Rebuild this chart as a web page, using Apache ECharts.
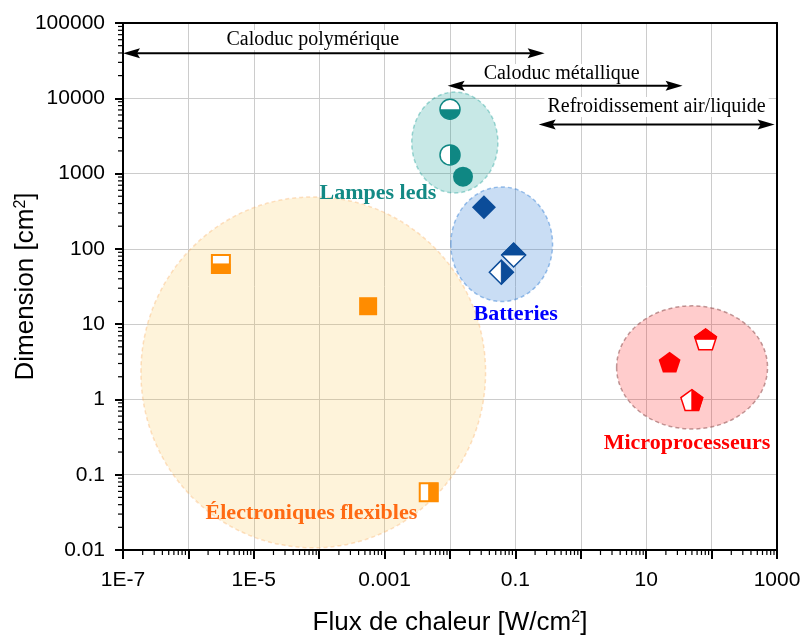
<!DOCTYPE html>
<html>
<head>
<meta charset="utf-8">
<script src="https://cdn.jsdelivr.net/npm/echarts@6/dist/echarts.min.js"></script>
<style>
html, body { margin: 0; padding: 0; background: #fff; }
#chart { width: 801px; height: 635px; }
</style>
</head>
<body>
<div id="chart"></div>
<script>
// Lampes leds (teal circles)
const ledX = [0.01, 0.01, 0.0158];
const ledY = [7150, 1770, 910];
const ledFill = ['bottom', 'right', 'full'];
// Batteries (blue diamonds)
const batX = [0.033, 0.094, 0.061];
const batY = [357, 83, 49];
const batFill = ['full', 'top', 'right'];
// Microprocesseurs (red pentagons)
const cpuX = [22.8, 80.8, 49.9];
const cpuY = [3.12, 6.3, 0.98];
const cpuFill = ['full', 'top', 'right'];
// Électroniques flexibles (orange squares)
const flexX = [3.14e-6, 5.6e-4, 4.73e-3];
const flexY = [63, 17.3, 0.0585];
const flexFill = ['bottom', 'full', 'right'];

// zones : [xmin, xmax, ymin, ymax]
const zoneNames = ['Électroniques flexibles', 'Lampes leds', 'Batteries', 'Microprocesseurs'];
const zoneBox = [
  [1.88e-7, 0.035, 0.0107, 490],
  [0.0026, 0.054, 552, 12100],
  [0.0103, 0.37, 20, 664],
  [3.53, 716, 0.405, 17.5]
];
const zoneLabelX = [7.6e-5, 7.9e-4, 0.101, 42];
const zoneLabelY = [0.0311, 552, 13.6, 0.264];

// technologies de refroidissement (double arrows)
const techNames = ['Caloduc polymérique', 'Caloduc métallique', 'Refroidissement air/liquide'];
const techFrom = [1e-7, 0.0092, 0.227];
const techTo = [0.28, 36, 920];
const techY = [39600, 14700, 4490];
const techLabelX = [8e-5, 0.51, 14.4];
const techLabelY = [59400, 21000, 7650];

const xTickLabels = ['1E-7', '1E-5', '0.001', '0.1', '10', '1000'];
const yTickLabels = ['0.01', '0.1', '1', '10', '100', '1000', '10000', '100000'];

const zoneFill = ['rgba(250,190,50,0.18)', 'rgba(0,150,140,0.22)', 'rgba(40,120,210,0.25)', 'rgba(255,0,0,0.2)'];
const zoneStroke = ['rgba(250,170,90,0.35)', 'rgba(0,150,140,0.35)', 'rgba(40,120,210,0.45)', 'rgba(150,90,90,0.6)'];
const zoneTextColor = ['#FF6A13', '#138A85', '#0000FF', '#FF0000'];

var chartDom = document.getElementById('chart');
var myChart = echarts.init(chartDom);
var option;

function shapePoints(shape, s) {
  if (shape === 'square') return [[-s, -s], [s, -s], [s, s], [-s, s]];
  if (shape === 'diamond') return [[0, -s], [s, 0], [0, s], [-s, 0]];
  const pts = [];
  for (let k = 0; k < 5; k++) {
    const a = -Math.PI / 2 + k * 2 * Math.PI / 5;
    pts.push([s * Math.cos(a), s * Math.sin(a) + 0.095 * s]);
  }
  return pts;
}

// keep the half of a polygon given by 'top' / 'bottom' / 'left' / 'right'
function clipHalf(pts, half) {
  const f = { top: p => p[1], bottom: p => -p[1], left: p => p[0], right: p => -p[0] }[half];
  const out = [];
  for (let i = 0; i < pts.length; i++) {
    const a = pts[i], b = pts[(i + 1) % pts.length];
    const fa = f(a), fb = f(b);
    if (fa <= 0) out.push(a);
    if ((fa < 0 && fb > 0) || (fa > 0 && fb < 0)) {
      const t = fa / (fa - fb);
      out.push([a[0] + t * (b[0] - a[0]), a[1] + t * (b[1] - a[1])]);
    }
  }
  return out;
}

function markerSeries(name, xs, ys, fills, shape, size, color, lw) {
  return {
    type: 'custom',
    name: name,
    z: 5,
    data: xs.map((x, i) => [x, ys[i]]),
    renderItem: function (params, api) {
      const c = api.coord([api.value(0), api.value(1)]);
      const fill = fills[params.dataIndex];
      const children = [];
      if (shape === 'circle') {
        if (fill === 'full') {
          children.push({ type: 'circle', shape: { cx: c[0], cy: c[1], r: size }, style: { fill: color } });
        } else {
          children.push({ type: 'circle', shape: { cx: c[0], cy: c[1], r: size }, style: { fill: '#fff', stroke: color, lineWidth: lw } });
          const ang = fill === 'bottom' ? [0, Math.PI] : [-Math.PI / 2, Math.PI / 2];
          children.push({ type: 'sector', shape: { cx: c[0], cy: c[1], r: size, r0: 0, startAngle: ang[0], endAngle: ang[1], clockwise: true }, style: { fill: color } });
        }
      } else {
        const pts = shapePoints(shape, size);
        const abs = arr => arr.map(p => [c[0] + p[0], c[1] + p[1]]);
        if (fill === 'full') {
          children.push({ type: 'polygon', shape: { points: abs(pts) }, style: { fill: color } });
        } else {
          children.push({ type: 'polygon', shape: { points: abs(pts) }, style: { fill: '#fff', stroke: color, lineWidth: lw } });
          children.push({ type: 'polygon', shape: { points: abs(clipHalf(pts, fill)) }, style: { fill: color, stroke: color, lineWidth: 1 } });
        }
      }
      return { type: 'group', children: children };
    }
  };
}

const series = [];

// zones (ellipses)
series.push({
  type: 'custom',
  z: 1,
  data: zoneBox.map(b => [b[0], b[2], b[1], b[3]]),
  renderItem: function (params, api) {
    const i = params.dataIndex;
    const p0 = api.coord([api.value(0), api.value(1)]);
    const p1 = api.coord([api.value(2), api.value(3)]);
    return {
      type: 'ellipse',
      shape: {
        cx: (p0[0] + p1[0]) / 2, cy: (p0[1] + p1[1]) / 2,
        rx: Math.abs(p1[0] - p0[0]) / 2, ry: Math.abs(p0[1] - p1[1]) / 2
      },
      style: { fill: zoneFill[i], stroke: zoneStroke[i], lineWidth: 1.5, lineDash: [4, 3] }
    };
  }
});

// zone labels
series.push({
  type: 'custom',
  z: 6,
  data: zoneLabelX.map((x, i) => [x, zoneLabelY[i]]),
  renderItem: function (params, api) {
    const i = params.dataIndex;
    const c = api.coord([api.value(0), api.value(1)]);
    return {
      type: 'text', x: c[0], y: c[1],
      style: { text: zoneNames[i], fill: zoneTextColor[i], font: 'bold 22px "Liberation Serif"', align: 'center', verticalAlign: 'middle' }
    };
  }
});

// arrows
series.push({
  type: 'custom',
  z: 6,
  data: techY.map((y, i) => [techFrom[i], y]),
  renderItem: function (params, api) {
    const i = params.dataIndex;
    const a = api.coord([techFrom[i], techY[i]]);
    const b = api.coord([techTo[i], techY[i]]);
    const L = 17, W = 5;
    return {
      type: 'group',
      children: [
        { type: 'line', shape: { x1: a[0] + 8, y1: a[1], x2: b[0] - 8, y2: b[1] }, style: { stroke: '#000', lineWidth: 2 } },
        { type: 'polygon', shape: { points: [[a[0], a[1]], [a[0] + L, a[1] - W], [a[0] + L - 3, a[1]], [a[0] + L, a[1] + W]] }, style: { fill: '#000' } },
        { type: 'polygon', shape: { points: [[b[0], b[1]], [b[0] - L, b[1] - W], [b[0] - L + 3, b[1]], [b[0] - L, b[1] + W]] }, style: { fill: '#000' } }
      ]
    };
  }
});

// arrow labels
series.push({
  type: 'custom',
  z: 7,
  data: techLabelX.map((x, i) => [x, techLabelY[i]]),
  renderItem: function (params, api) {
    const i = params.dataIndex;
    const c = api.coord([api.value(0), api.value(1)]);
    return {
      type: 'text', x: c[0], y: c[1],
      style: { text: techNames[i], fill: '#000', font: '20px "Liberation Serif"', align: 'center', verticalAlign: 'middle', backgroundColor: '#fff', padding: [0, 3] }
    };
  }
});

// minor ticks at 2..9 of every decade
series.push({
  type: 'custom',
  z: 8,
  silent: true,
  data: [[1e-7, 0.01]],
  renderItem: function (params, api) {
    const children = [];
    for (let e = -7; e < 3; e++) {
      for (let k = 2; k <= 9; k++) {
        const p = api.coord([k * Math.pow(10, e), 0.01]);
        children.push({ type: 'line', shape: { x1: p[0], y1: p[1], x2: p[0], y2: p[1] + 5 }, style: { stroke: '#000', lineWidth: 1.2 } });
      }
    }
    for (let e = -2; e < 5; e++) {
      for (let k = 2; k <= 9; k++) {
        const p = api.coord([1e-7, k * Math.pow(10, e)]);
        children.push({ type: 'line', shape: { x1: p[0] - 5, y1: p[1], x2: p[0], y2: p[1] }, style: { stroke: '#000', lineWidth: 1.2 } });
      }
    }
    return { type: 'group', children: children };
  }
});

series.push(markerSeries('Électroniques flexibles', flexX, flexY, flexFill, 'square', 9, '#FF8C00', 2));
series.push(markerSeries('Lampes leds', ledX, ledY, ledFill, 'circle', 10, '#0F8783', 1.5));
series.push(markerSeries('Batteries', batX, batY, batFill, 'diamond', 12, '#0B4C99', 1.5));
series.push(markerSeries('Microprocesseurs', cpuX, cpuY, cpuFill, 'pentagon', 11.5, '#FF0000', 1.5));

const axisFont = 'Liberation Sans';

option = {
  backgroundColor: '#fff',
  animation: false,
  grid: { left: 123, right: 24, top: 23, bottom: 85, containLabel: false, outerBoundsMode: 'none' },
  xAxis: [{
    type: 'log',
    logBase: 10,
    min: 1e-7,
    max: 1000,
    interval: 1,
    splitNumber: 10,
    name: 'Flux de chaleur [W/cm{sup|2}]',
    nameLocation: 'middle',
    nameGap: 60,
    nameTextStyle: {
      fontFamily: axisFont, fontSize: 26, color: '#000',
      rich: { sup: { fontFamily: axisFont, fontSize: 16, color: '#000', verticalAlign: 'top', padding: [0, 0, 10, 0] } }
    },
    axisLine: { onZero: false, lineStyle: { color: '#000', width: 2 } },
    axisTick: { inside: false, length: 9, lineStyle: { color: '#000', width: 2 } },
    axisLabel: {
      fontFamily: axisFont, fontSize: 21, color: '#000', margin: 20,
      formatter: function (v) {
        const e = Math.round(Math.log10(v));
        return (e + 7) % 2 === 0 ? xTickLabels[(e + 7) / 2] : '';
      }
    },
    splitLine: { show: true, lineStyle: { color: '#cccccc', width: 1 } }
  }, {
    type: 'log', min: 1e-7, max: 1000, position: 'top',
    axisLine: { show: true, onZero: false, lineStyle: { color: '#000', width: 2 } },
    axisTick: { show: false }, axisLabel: { show: false }, splitLine: { show: false }
  }],
  yAxis: [{
    type: 'log',
    logBase: 10,
    min: 0.01,
    max: 100000,
    splitNumber: 7,
    name: 'Dimension [cm{sup|2}]',
    nameLocation: 'middle',
    nameGap: 84,
    nameMoveOverlap: false,
    nameTextStyle: {
      fontFamily: axisFont, fontSize: 26, color: '#000',
      rich: { sup: { fontFamily: axisFont, fontSize: 16, color: '#000', verticalAlign: 'top', padding: [0, 0, 10, 0] } }
    },
    axisLine: { onZero: false, lineStyle: { color: '#000', width: 2 } },
    axisTick: { inside: false, length: 8, lineStyle: { color: '#000', width: 2 } },
    axisLabel: {
      fontFamily: axisFont, fontSize: 21, color: '#000', margin: 18,
      formatter: function (v) {
        const e = Math.round(Math.log10(v));
        return yTickLabels[e + 2];
      }
    },
    splitLine: { show: true, lineStyle: { color: '#cccccc', width: 1 } }
  }, {
    type: 'log', min: 0.01, max: 100000, position: 'right',
    axisLine: { show: true, onZero: false, lineStyle: { color: '#000', width: 2 } },
    axisTick: { show: false }, axisLabel: { show: false }, splitLine: { show: false }
  }],
  series: series
};

option && myChart.setOption(option);
</script>
</body>
</html>
